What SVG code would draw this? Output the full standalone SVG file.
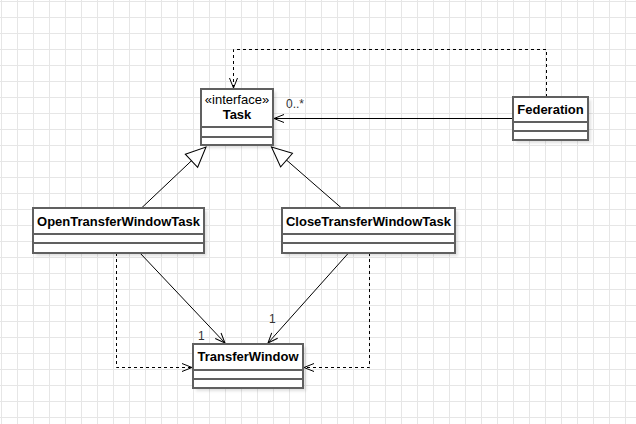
<svg xmlns="http://www.w3.org/2000/svg" width="636" height="424" viewBox="0 0 636 424">
<style>
.box{fill:#fff;stroke:#606060;stroke-width:2}
.sh{fill:#000;opacity:0.12;filter:url(#blur)}
.div{stroke:#606060;stroke-width:2}
.name{font-family:"Liberation Sans",Arial,sans-serif;font-size:13px;font-weight:bold;fill:#000;text-anchor:middle}
.ster{font-family:"Liberation Sans",Arial,sans-serif;font-size:13px;fill:#000;text-anchor:middle}
.lbl{font-family:"Liberation Sans",Arial,sans-serif;font-size:12px;fill:#333}
.assoc{fill:none;stroke:#000;stroke-width:1;marker-end:url(#open)}
.dep{fill:none;stroke:#000;stroke-width:1;stroke-dasharray:3,3;marker-end:url(#open)}
.gen{fill:none;stroke:#000;stroke-width:1;marker-end:url(#tri)}
</style>
<defs>
<pattern id="grid" patternUnits="userSpaceOnUse" x="1" y="1" width="16" height="16">
<path d="M0.5,0 V16 M0,0.5 H16" stroke="#e6e6e6" stroke-width="1" fill="none"/>
</pattern>
<filter id="blur" x="-20%" y="-20%" width="140%" height="140%"><feGaussianBlur stdDeviation="1.5"/></filter>
<marker id="open" markerUnits="userSpaceOnUse" markerWidth="12" markerHeight="10" refX="10" refY="4.5" orient="auto" overflow="visible">
<path d="M0,0.5 L10,4.5 L0,8.5" fill="none" stroke="#000" stroke-width="1"/>
</marker>
<marker id="tri" markerUnits="userSpaceOnUse" markerWidth="22" markerHeight="20" refX="20" refY="9" orient="auto" overflow="visible">
<path d="M0,0 L20,9 L0,18 Z" fill="#fff" stroke="#000" stroke-width="1"/>
</marker>
</defs>
<rect x="0" y="0" width="636" height="424" fill="#fff"/>
<rect x="0" y="0" width="636" height="424" fill="url(#grid)"/>

<g id="connectors">
<path class="dep" d="M546.5,97 V49.5 H233.5 V88"/>
<path class="assoc" d="M513,118.5 H274"/>
<path class="gen" d="M141.5,208 L206,147"/>
<path class="gen" d="M341.5,208 L271.5,147"/>
<path class="assoc" d="M140,253 L225,343"/>
<path class="assoc" d="M348.5,253 L268,343"/>
<path class="dep" d="M116.5,253 V367.5 H192"/>
<path class="dep" d="M369.5,253 V367.5 H304"/>
<text class="lbl" x="286" y="108">0..*</text>
<text class="lbl" x="198" y="340">1</text>
<text class="lbl" x="269" y="323">1</text>
</g>

<g id="task">
<rect class="sh" x="204" y="92" width="72" height="56"/>
<rect class="box" x="201" y="89" width="72" height="56"/>
<line class="div" x1="201" y1="127" x2="273" y2="127"/>
<line class="div" x1="201" y1="137" x2="273" y2="137"/>
<text class="ster" x="237" y="104">«interface»</text>
<text class="name" x="237" y="119">Task</text>
</g>

<g id="federation">
<rect class="sh" x="516" y="100" width="75" height="43"/>
<rect class="box" x="513" y="97" width="75" height="43"/>
<line class="div" x1="513" y1="122" x2="588" y2="122"/>
<line class="div" x1="513" y1="131" x2="588" y2="131"/>
<text class="name" x="550.5" y="114">Federation</text>
</g>

<g id="openTask">
<rect class="sh" x="36" y="211" width="171" height="45"/>
<rect class="box" x="33" y="208" width="171" height="45"/>
<line class="div" x1="33" y1="234" x2="204" y2="234"/>
<line class="div" x1="33" y1="243" x2="204" y2="243"/>
<text class="name" x="118.5" y="226">OpenTransferWindowTask</text>
</g>

<g id="closeTask">
<rect class="sh" x="285" y="211" width="173" height="45"/>
<rect class="box" x="282" y="208" width="173" height="45"/>
<line class="div" x1="282" y1="234" x2="455" y2="234"/>
<line class="div" x1="282" y1="243" x2="455" y2="243"/>
<text class="name" x="368.5" y="226">CloseTransferWindowTask</text>
</g>

<g id="transferWindow">
<rect class="sh" x="196" y="347" width="110" height="44"/>
<rect class="box" x="193" y="344" width="110" height="44"/>
<line class="div" x1="193" y1="370" x2="303" y2="370"/>
<line class="div" x1="193" y1="379" x2="303" y2="379"/>
<text class="name" x="248" y="361">TransferWindow</text>
</g>
</svg>
